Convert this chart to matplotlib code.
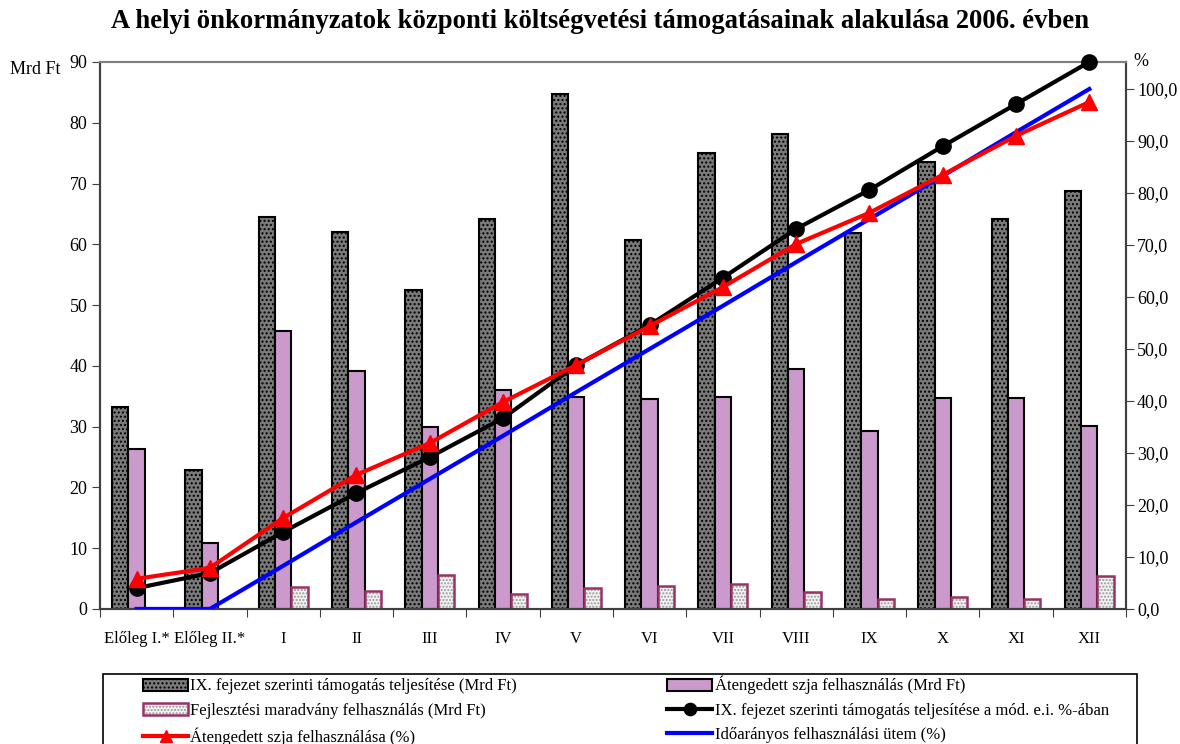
import matplotlib.pyplot as plt
import numpy as np
from matplotlib.legend_handler import HandlerTuple
from matplotlib.patches import Rectangle
from matplotlib.ticker import FuncFormatter

plt.rcParams['font.family'] = ['Liberation Serif', 'DejaVu Serif']

categories = ["Előleg I.*", "Előleg II.*", "I", "II", "III", "IV", "V", "VI",
              "VII", "VIII", "IX", "X", "XI", "XII"]

# Mrd Ft (left axis)
tamogatas = [33.2, 22.9, 64.5, 62.0, 52.5, 64.2, 84.8, 60.7, 75.0, 78.1, 61.8, 73.5, 64.2, 68.8]
szja = [26.4, 10.8, 45.7, 39.2, 29.9, 36.0, 34.9, 34.5, 34.8, 39.5, 29.2, 34.7, 34.7, 30.1]
fejlesztesi = [0, 0, 3.6, 2.9, 5.6, 2.4, 3.5, 3.8, 4.1, 2.8, 1.6, 2.0, 1.6, 5.5]

# % (right axis)
tamogatas_pct = [4.0, 6.9, 14.8, 22.3, 29.2, 36.7, 46.9, 54.6, 63.7, 73.1, 80.6, 89.0, 97.1, 105.2]
szja_pct = [5.8, 7.9, 17.5, 25.8, 31.9, 39.8, 46.9, 54.4, 61.9, 70.2, 76.2, 83.5, 91.0, 97.5]
idoaranyos = [0, 0, 8.3, 16.7, 25.0, 33.3, 41.7, 50.0, 58.3, 66.7, 75.0, 83.3, 91.7, 100.0]

x = np.arange(len(categories))
w = 1 / 4.5
W, H = 1180, 744

fig = plt.figure(figsize=(11.8, 7.44), dpi=100)
ax = fig.add_axes([0.0847, 0.1815, 0.8695, 0.7352])
ax2 = ax.twinx()

b1 = ax.bar(x - w, tamogatas, w, color='#7a7a7a', edgecolor='black', linewidth=1.5,
            hatch='....', zorder=2)
b2 = ax.bar(x, szja, w, color='#cc99cc', edgecolor='black', linewidth=1.5, zorder=2)
b3a = ax.bar(x + w, fejlesztesi, w, color='#f2f2f2', edgecolor='#999999', linewidth=0,
             hatch='.....', zorder=2)
b3b = ax.bar(x + w, fejlesztesi, w, color='none', edgecolor='#993366', linewidth=1.8, zorder=3)

l_blue, = ax2.plot(x, idoaranyos, color='#0000ff', lw=3, zorder=3)
l_black, = ax2.plot(x, tamogatas_pct, color='black', lw=3, marker='o', ms=11, zorder=4,
                    clip_on=False)
l_red, = ax2.plot(x, szja_pct, color='#ff0000', lw=3, marker='^', ms=11, zorder=5)

ax.set_xlim(-0.5, len(categories) - 0.5)
ax.set_ylim(0, 90)
ax2.set_ylim(0, 105.2)
ax.set_yticks(np.arange(0, 91, 10))
ax2.set_yticks(np.arange(0, 101, 10))
ax2.yaxis.set_major_formatter(FuncFormatter(lambda v, p: f"{v:.1f}".replace('.', ',')))

ax.set_xticks(np.arange(-0.5, len(categories), 1))
ax.set_xticklabels([])
ax.set_xticks(x, minor=True)
ax.set_xticklabels(categories, minor=True)
ax.tick_params(axis='x', which='minor', length=0, pad=16, labelsize=12)
ax.tick_params(axis='x', which='major', length=6, direction='out', color='#404040')
ax.tick_params(axis='y', labelsize=13, length=6, color='#404040', pad=3)
ax2.tick_params(axis='y', labelsize=13, length=6, color='#404040', pad=2)

for a in (ax, ax2):
    a.spines['top'].set_color('#808080')
    a.spines['top'].set_linewidth(1.5)
    for s in ('left', 'right', 'bottom'):
        a.spines[s].set_color('#404040')
        a.spines[s].set_linewidth(1.5)

fig.text(10 / W, 1 - 69 / H, "Mrd Ft", fontsize=13, va='center')
fig.text(1133 / W, 1 - 61 / H, "%", fontsize=13, va='center')

fig.text(0.5085, 1 - 22 / H,
         "A helyi önkormányzatok központi költségvetési támogatásainak alakulása 2006. évben",
         fontsize=19.2, fontweight='bold', ha='center', va='center')

handles = [b1, b2, (b3a, b3b), l_black, l_red, l_blue]
labels = ["IX. fejezet szerinti támogatás teljesítése (Mrd Ft)",
          "Átengedett szja felhasználás (Mrd Ft)",
          "Fejlesztési maradvány felhasználás (Mrd Ft)",
          "IX. fejezet szerinti támogatás teljesítése a mód. e.i. %-ában",
          "Átengedett szja felhasználása (%)",
          "Időarányos felhasználási ütem (%)"]
# legend fills column-wise, so reorder
order = [0, 2, 4, 1, 3, 5]
fig.legend([handles[i] for i in order], [labels[i] for i in order],
           loc='upper left', bbox_to_anchor=(143 / W, 1 - 676 / H),
           ncol=2, fontsize=12, frameon=False, handlelength=2.7, handletextpad=0.15,
           labelspacing=0.5, borderaxespad=0, borderpad=0, columnspacing=9.0,
           markerscale=0.8, handler_map={tuple: HandlerTuple(ndivide=1)})

fig.patches.append(Rectangle((103 / W, -0.05), (1137 - 103) / W, 0.05 + 1 - 674 / H,
                             transform=fig.transFigure, fill=False, edgecolor='black',
                             linewidth=1.2))

fig.savefig("out.png", dpi=100)
